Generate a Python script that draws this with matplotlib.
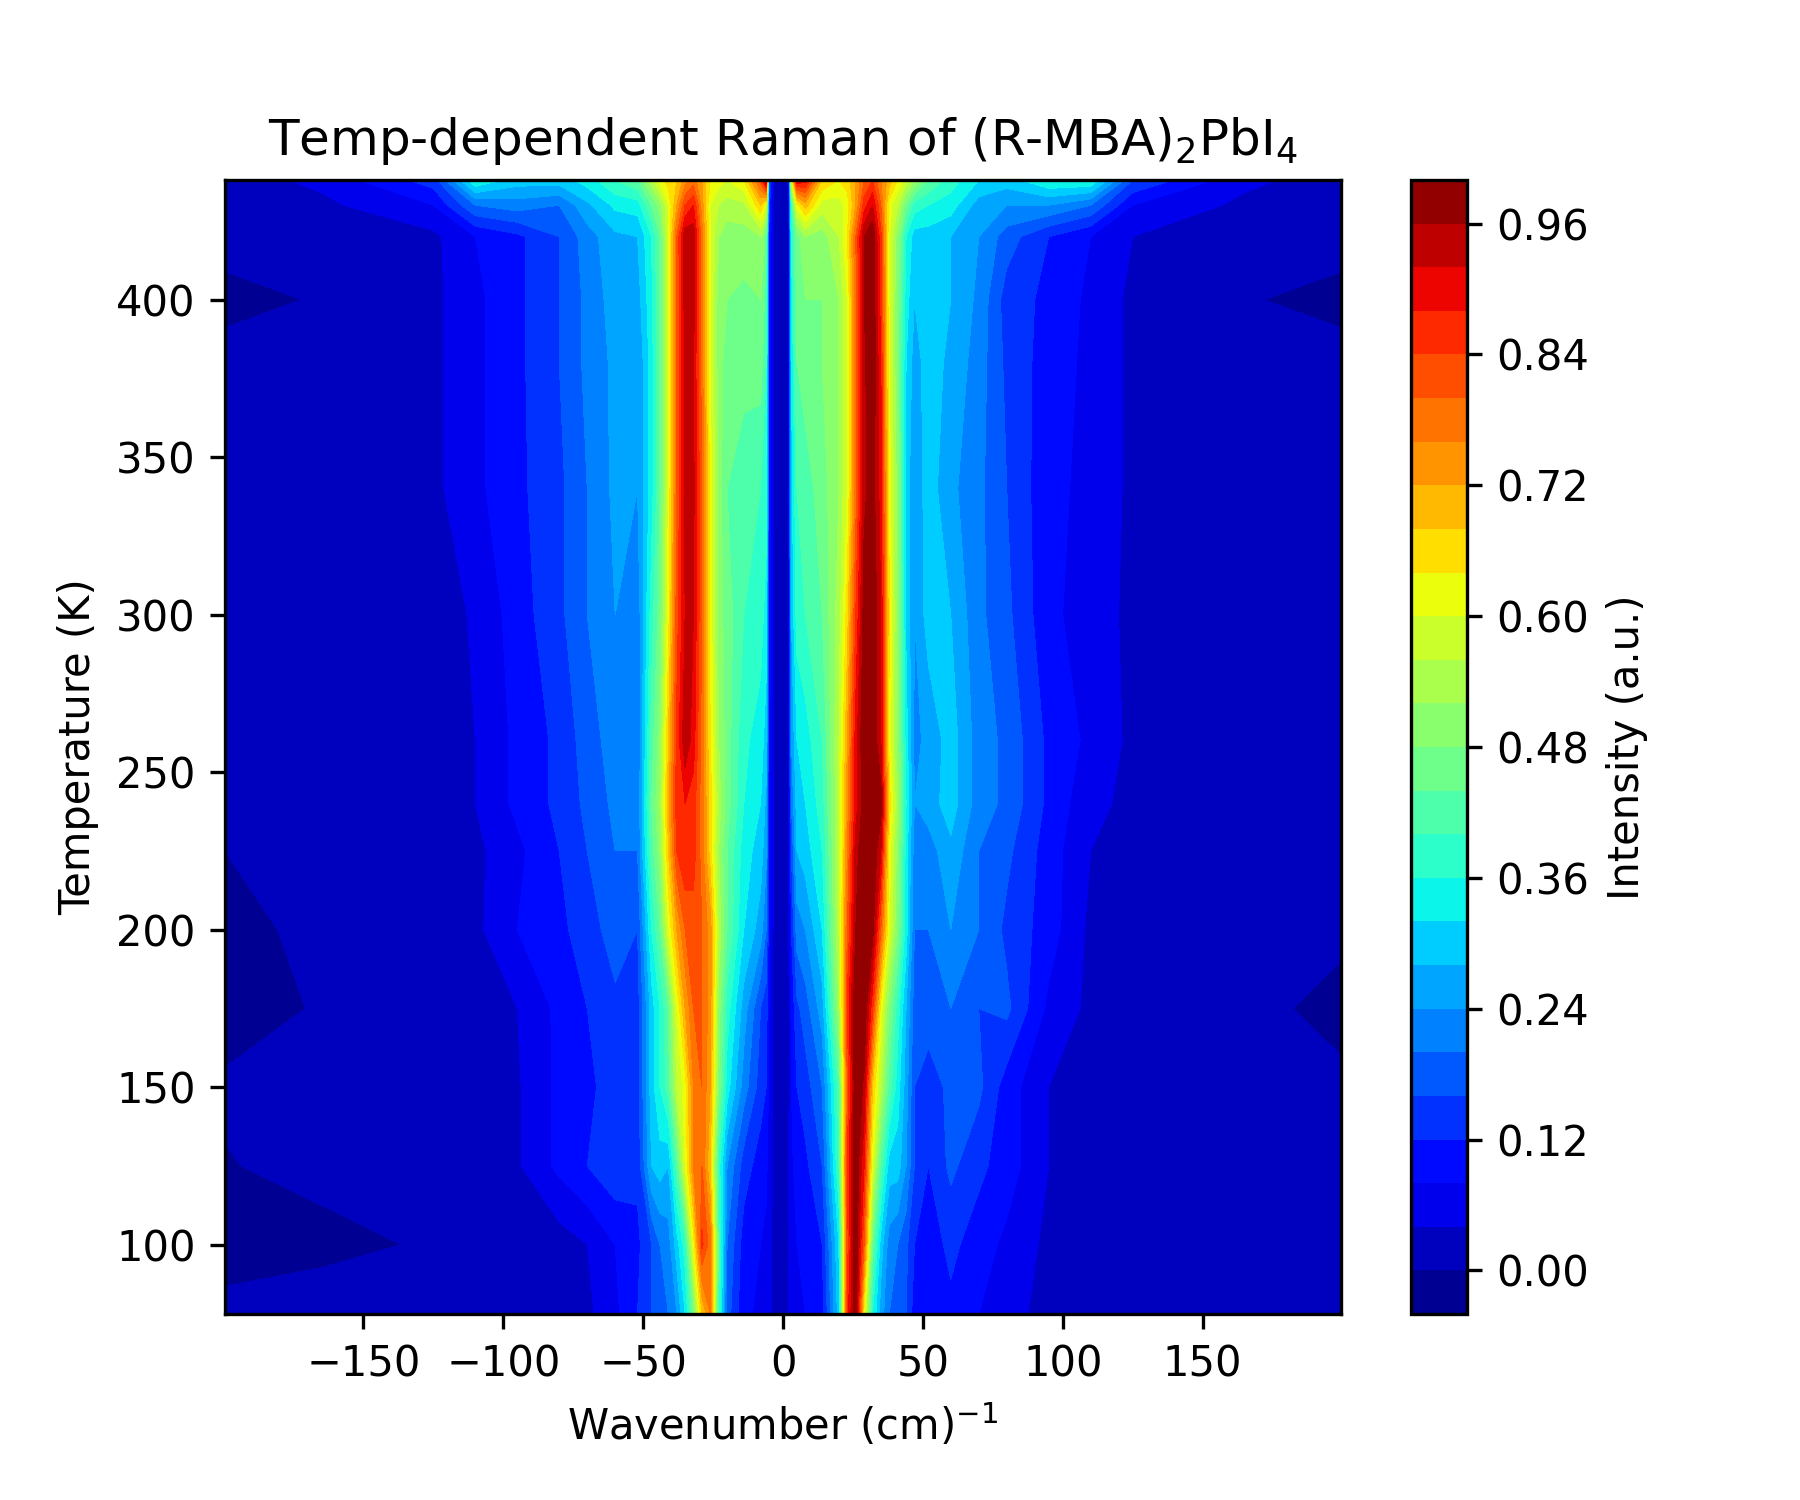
import numpy as np
import matplotlib
matplotlib.use("Agg")
import matplotlib.pyplot as plt

wavenumber = [-199.5, -165, -125, -110, -95, -80, -70, -60, -52, -47, -44, -41, -38, -35, -32, -29, -26, -23, -20, -14, -8,
              -6, -5, -3, 0, 2, 3, 5,
              8, 14, 20, 23, 26, 29, 32, 35, 38, 41, 44, 47, 52, 60, 70, 80, 95, 110, 125, 165, 199.5]

temperature = [78, 100, 125, 150, 175, 200, 225, 240, 260, 300, 340, 380, 400, 420, 430, 438]

# one spectrum per temperature
I_78 = [0.01, 0.02, 0.02, 0.02, 0.02, 0.02, 0.03, 0.07, 0.12, 0.16, 0.18, 0.20, 0.24, 0.32, 0.46, 0.68, 0.76, 0.40, 0.18, 0.09, 0.07,
        0.06, 0.05, 0.03, 0.03, 0.04, 0.06, 0.07,
        0.08, 0.10, 0.30, 0.86, 1.00, 0.62, 0.36, 0.26, 0.20, 0.18, 0.16, 0.10, 0.09, 0.11, 0.08, 0.05, 0.03, 0.02, 0.02, 0.02, 0.01]
I_100 = [-0.015, -0.01, 0.004, 0.02, 0.02, 0.02, 0.04, 0.08, 0.11, 0.16, 0.20, 0.22, 0.30, 0.38, 0.62, 0.85, 0.78, 0.42, 0.20, 0.10, 0.08,
         0.07, 0.05, 0.03, 0.03, 0.04, 0.06, 0.08,
         0.09, 0.12, 0.32, 0.82, 1.00, 0.80, 0.45, 0.30, 0.22, 0.20, 0.17, 0.12, 0.10, 0.13, 0.10, 0.07, 0.03, 0.02, 0.02, 0.02, 0.005]
I_125 = [-0.002, 0.01, 0.02, 0.02, 0.035, 0.09, 0.12, 0.15, 0.13, 0.28, 0.30, 0.28, 0.42, 0.60, 0.76, 0.80, 0.68, 0.38, 0.24, 0.14, 0.10,
         0.09, 0.06, 0.025, 0.025, 0.04, 0.07, 0.10,
         0.11, 0.16, 0.40, 0.85, 1.00, 0.88, 0.60, 0.42, 0.30, 0.30, 0.24, 0.16, 0.12, 0.17, 0.13, 0.10, 0.04, 0.02, 0.02, 0.02, 0.01]
I_150 = [0.005, 0.015, 0.02, 0.02, 0.035, 0.09, 0.11, 0.14, 0.14, 0.30, 0.36, 0.42, 0.56, 0.62, 0.76, 0.80, 0.72, 0.48, 0.34, 0.22, 0.14,
         0.12, 0.07, 0.02, 0.02, 0.03, 0.08, 0.12,
         0.14, 0.20, 0.42, 0.80, 1.00, 0.95, 0.68, 0.55, 0.42, 0.34, 0.26, 0.16, 0.14, 0.17, 0.17, 0.10, 0.04, 0.03, 0.02, 0.015, 0.01]
I_175 = [-0.015, 0.003, 0.02, 0.025, 0.04, 0.09, 0.12, 0.15, 0.14, 0.30, 0.36, 0.44, 0.60, 0.72, 0.80, 0.80, 0.74, 0.50, 0.38, 0.26, 0.16,
         0.14, 0.08, 0.02, 0.02, 0.03, 0.09, 0.15,
         0.18, 0.26, 0.52, 0.85, 1.00, 1.00, 0.85, 0.62, 0.48, 0.38, 0.28, 0.18, 0.18, 0.20, 0.16, 0.17, 0.07, 0.03, 0.02, 0.015, -0.015]
I_200 = [-0.012, 0.01, 0.02, 0.03, 0.08, 0.11, 0.14, 0.18, 0.16, 0.36, 0.44, 0.60, 0.72, 0.80, 0.82, 0.80, 0.74, 0.55, 0.44, 0.32, 0.26,
         0.20, 0.09, 0.02, 0.02, 0.03, 0.12, 0.22,
         0.24, 0.32, 0.56, 0.80, 0.96, 1.00, 0.98, 0.80, 0.60, 0.48, 0.34, 0.20, 0.20, 0.24, 0.20, 0.15, 0.10, 0.03, 0.02, 0.015, 0.01]
I_225 = [0.0, 0.015, 0.02, 0.03, 0.07, 0.12, 0.16, 0.20, 0.20, 0.42, 0.50, 0.68, 0.84, 0.88, 0.86, 0.78, 0.66, 0.52, 0.44, 0.34, 0.30,
         0.25, 0.09, 0.02, 0.02, 0.03, 0.16, 0.28,
         0.30, 0.36, 0.56, 0.76, 0.94, 1.00, 1.00, 0.92, 0.62, 0.50, 0.34, 0.22, 0.22, 0.27, 0.20, 0.17, 0.10, 0.04, 0.03, 0.015, 0.015]
I_240 = [0.015, 0.015, 0.02, 0.04, 0.09, 0.13, 0.17, 0.21, 0.20, 0.44, 0.52, 0.70, 0.86, 0.88, 0.86, 0.78, 0.66, 0.54, 0.46, 0.36, 0.32,
         0.27, 0.09, 0.02, 0.02, 0.03, 0.20, 0.30,
         0.32, 0.38, 0.56, 0.74, 0.90, 0.98, 1.00, 0.98, 0.66, 0.52, 0.36, 0.24, 0.26, 0.30, 0.22, 0.19, 0.11, 0.05, 0.03, 0.015, 0.015]
I_260 = [0.015, 0.015, 0.02, 0.04, 0.09, 0.13, 0.18, 0.22, 0.20, 0.42, 0.50, 0.68, 0.85, 0.95, 0.90, 0.78, 0.64, 0.52, 0.46, 0.37, 0.34,
         0.30, 0.09, 0.02, 0.015, 0.03, 0.24, 0.32,
         0.34, 0.40, 0.56, 0.72, 0.90, 1.00, 1.00, 0.92, 0.62, 0.50, 0.34, 0.23, 0.25, 0.30, 0.22, 0.19, 0.11, 0.07, 0.03, 0.015, 0.015]
I_300 = [0.015, 0.015, 0.02, 0.045, 0.10, 0.15, 0.20, 0.24, 0.21, 0.38, 0.46, 0.62, 0.82, 0.92, 0.92, 0.80, 0.62, 0.50, 0.46, 0.40, 0.38,
         0.34, 0.10, 0.02, 0.015, 0.03, 0.28, 0.38,
         0.40, 0.44, 0.54, 0.66, 0.84, 0.98, 1.00, 0.92, 0.64, 0.50, 0.31, 0.24, 0.30, 0.28, 0.21, 0.17, 0.09, 0.06, 0.03, 0.015, 0.015]
I_340 = [0.015, 0.015, 0.03, 0.07, 0.11, 0.15, 0.20, 0.25, 0.24, 0.34, 0.44, 0.60, 0.80, 0.93, 0.93, 0.80, 0.62, 0.50, 0.44, 0.41, 0.40,
         0.38, 0.11, 0.02, 0.015, 0.03, 0.30, 0.40,
         0.42, 0.46, 0.52, 0.60, 0.78, 0.95, 0.98, 0.90, 0.62, 0.50, 0.30, 0.25, 0.30, 0.25, 0.21, 0.16, 0.09, 0.07, 0.03, 0.015, 0.015]
I_380 = [0.015, 0.015, 0.03, 0.07, 0.11, 0.16, 0.21, 0.25, 0.24, 0.34, 0.44, 0.60, 0.80, 0.93, 0.92, 0.78, 0.60, 0.50, 0.46, 0.46, 0.46,
         0.40, 0.11, 0.02, 0.015, 0.03, 0.32, 0.44,
         0.46, 0.48, 0.52, 0.60, 0.78, 0.95, 1.00, 0.88, 0.60, 0.48, 0.32, 0.26, 0.30, 0.27, 0.22, 0.15, 0.10, 0.07, 0.03, 0.015, 0.015]
I_400 = [-0.012, 0.003, 0.03, 0.07, 0.11, 0.16, 0.21, 0.26, 0.26, 0.35, 0.44, 0.60, 0.80, 0.94, 0.94, 0.78, 0.60, 0.50, 0.48, 0.47, 0.48,
         0.42, 0.11, 0.02, 0.015, 0.03, 0.34, 0.46,
         0.48, 0.48, 0.52, 0.60, 0.78, 0.96, 1.00, 0.86, 0.60, 0.48, 0.34, 0.28, 0.30, 0.28, 0.23, 0.14, 0.11, 0.07, 0.03, 0.003, -0.012]
I_420 = [0.015, 0.015, 0.03, 0.08, 0.11, 0.16, 0.22, 0.27, 0.28, 0.36, 0.44, 0.60, 0.80, 0.95, 0.95, 0.78, 0.60, 0.52, 0.50, 0.50, 0.52,
         0.45, 0.11, 0.02, 0.02, 0.03, 0.36, 0.46,
         0.52, 0.50, 0.56, 0.64, 0.80, 0.96, 1.00, 0.85, 0.60, 0.50, 0.36, 0.30, 0.30, 0.28, 0.24, 0.18, 0.12, 0.08, 0.04, 0.02, 0.015]
I_430 = [0.02, 0.03, 0.08, 0.20, 0.22, 0.20, 0.27, 0.33, 0.34, 0.44, 0.50, 0.60, 0.72, 0.84, 0.88, 0.74, 0.60, 0.56, 0.54, 0.55, 0.68,
         0.60, 0.13, 0.02, 0.02, 0.03, 0.40, 0.62,
         0.70, 0.58, 0.58, 0.62, 0.72, 0.86, 0.92, 0.80, 0.62, 0.56, 0.46, 0.38, 0.36, 0.34, 0.26, 0.24, 0.24, 0.20, 0.08, 0.03, 0.02]
I_438 = [0.02, 0.05, 0.14, 0.36, 0.30, 0.30, 0.34, 0.40, 0.44, 0.55, 0.62, 0.66, 0.68, 0.74, 0.78, 0.72, 0.64, 0.62, 0.60, 0.64, 0.82,
         0.98, 0.18, 0.02, 0.02, 0.03, 0.60, 0.92,
         0.90, 0.68, 0.64, 0.66, 0.72, 0.80, 0.84, 0.76, 0.70, 0.64, 0.58, 0.52, 0.44, 0.38, 0.32, 0.30, 0.36, 0.36, 0.16, 0.05, 0.02]

intensity = np.array([I_78, I_100, I_125, I_150, I_175, I_200, I_225, I_240, I_260, I_300,
                      I_340, I_380, I_400, I_420, I_430, I_438])
levels = np.arange(-0.04, 1.001, 0.04)

plt.figure(figsize=(6, 5))
cs = plt.contourf(wavenumber, temperature, intensity, levels=levels, cmap="jet")
plt.title("Temp-dependent Raman of (R-MBA)$_2$PbI$_4$")
plt.xlabel("Wavenumber (cm)$^{-1}$")
plt.ylabel("Temperature (K)")
cbar = plt.colorbar(cs)
cbar.set_label("Intensity (a.u.)")
plt.subplots_adjust(bottom=0.124)
plt.savefig("out.png", dpi=300)
